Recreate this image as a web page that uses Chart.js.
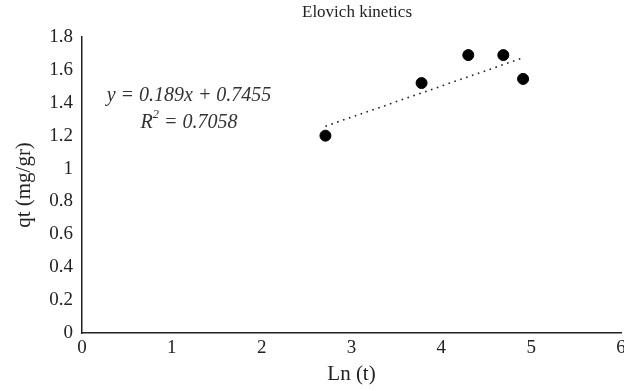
<!DOCTYPE html>
<html>
<head>
<meta charset="utf-8">
<script src="https://cdn.jsdelivr.net/npm/chart.js@4"></script>
<style>
  html, body { margin:0; padding:0; background:#fff; overflow:hidden; }
  #wrap { width:640px; height:391px; }
</style>
</head>
<body>
<div id="wrap"><canvas id="c"></canvas></div>
<script>
// data
const lnT = [2.71, 3.78, 4.30, 4.69, 4.91];
const qt  = [1.20, 1.52, 1.69, 1.69, 1.545];
const slope = 0.189, intercept = 0.7455, r2 = '0.7058';
const xTicks = [0, 1, 2, 3, 4, 5, 6];
const yTicks = [0, 0.2, 0.4, 0.6, 0.8, 1, 1.2, 1.4, 1.6, 1.8];
const titleText = 'Elovich kinetics';

const serif = "'Liberation Serif', 'Times New Roman', serif";

// linear trendline over the range of the data
const xFirst = lnT[0], xLast = lnT[lnT.length-1];
const trend = [{x:xFirst, y:slope*xFirst+intercept}, {x:xLast, y:slope*xLast+intercept}];

// title + equation text
const textPlugin = {
  id:'txt',
  afterDraw(chart){
    const ctx = chart.ctx;
    ctx.save();
    ctx.fillStyle = '#222';
    ctx.textBaseline = 'middle';
    ctx.textAlign = 'center';
    ctx.font = '17px ' + serif;
    ctx.fillText(titleText, 357, 13);

    ctx.fillStyle = '#333';
    ctx.font = 'italic 20px ' + serif;
    ctx.fillText('y = ' + slope + 'x + ' + intercept, 189, 96);
    // R^2 with superscript
    const a = 'R', b = ' = ' + r2;
    ctx.textAlign = 'left';
    const wa = ctx.measureText(a).width, wb = ctx.measureText(b).width;
    ctx.font = 'italic 13px ' + serif;
    const ws = ctx.measureText('2').width;
    let x0 = 189 - (wa + ws + wb)/2;
    ctx.font = 'italic 20px ' + serif;
    ctx.fillText(a, x0, 123);
    ctx.font = 'italic 13px ' + serif;
    ctx.fillText('2', x0 + wa, 115);
    ctx.font = 'italic 20px ' + serif;
    ctx.fillText(b, x0 + wa + ws, 123);
    ctx.restore();
  }
};

new Chart(document.getElementById('c'), {
  type:'scatter',
  data:{ datasets:[
    { data: lnT.map((v,i)=>({x:v, y:qt[i]})), backgroundColor:'#000', borderColor:'#000', pointRadius:5.5, pointHoverRadius:5.5 },
    { type:'line', data: trend, borderColor:'#222', borderWidth:1.6, borderDash:[1.6,4.6], pointRadius:0, fill:false }
  ]},
  options:{
    animation:false, responsive:true, maintainAspectRatio:false,
    layout:{ padding:{ left:0, right:19, top:37, bottom:0 } },
    plugins:{ legend:{ display:false }, tooltip:{ enabled:false } },
    scales:{
      x:{ type:'linear', min:0, max:6,
        afterBuildTicks: s => { s.ticks = xTicks.map(v=>({value:v})); },
        afterFit: s => { s.height = 58; },
        grid:{ display:false, drawTicks:false },
        border:{ display:true, color:'#222', width:1.5 },
        ticks:{ color:'#222', padding:4, font:{ family:serif, size:19 } },
        title:{ display:true, text:'Ln (t)', color:'#222', font:{ family:serif, size:21 }, padding:{ bottom:4 } } },
      y:{ min:0, max:1.8,
        afterBuildTicks: s => { s.ticks = yTicks.map(v=>({value:v})); },
        afterFit: s => { s.width = 82; },
        grid:{ display:false, drawTicks:false },
        border:{ display:true, color:'#222', width:1.5 },
        ticks:{ color:'#222', padding:9, font:{ family:serif, size:19 }, callback: v => String(+v.toFixed(1)) },
        title:{ display:true, text:'qt (mg/gr)', color:'#222', font:{ family:serif, size:21 }, padding:{ top:12 } } }
    }
  },
  plugins:[textPlugin]
});
</script>
</body>
</html>
